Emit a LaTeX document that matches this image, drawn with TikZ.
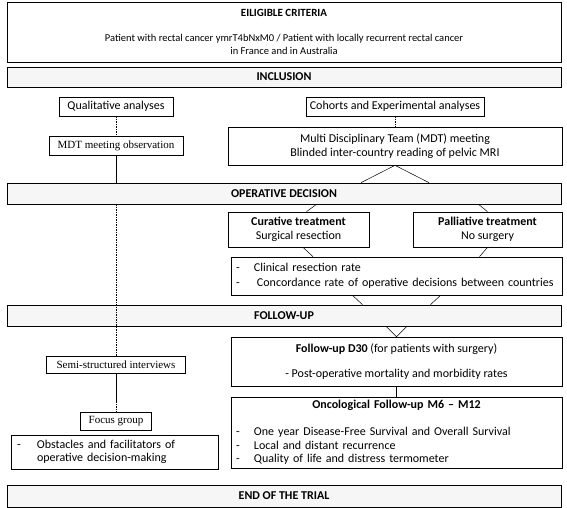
\documentclass[tikz,border=0pt]{standalone}
\usepackage{fontspec}
\setmainfont{Carlito}
\newfontfamily\timesfont{Liberation Serif}
\usetikzlibrary{positioning}

\tikzset{
  box/.style={draw, line width=0.7pt, fill=white, inner sep=2pt, align=center,
    font=\fontsize{12}{14.5}\selectfont},
  listbox/.style={box, align=left},
  tbox/.style={box, font=\timesfont\fontsize{11}{13}\selectfont},
  bar/.style={draw, line width=0.7pt, fill=gray!7, minimum width=554pt,
    minimum height=20pt, font=\bfseries\fontsize{12}{14}\selectfont},
  link/.style={line width=0.5pt},
  dots/.style={link, dash pattern=on 1.5pt off 1pt},
}

\begin{document}
\begin{tikzpicture}[x=1pt, y=-1pt]
  \useasboundingbox (0,0) rectangle (567,508);

  % stages
  \node[box, minimum width=554pt, minimum height=60pt, font=\fontsize{10.5}{13}\selectfont] (elig) at (284,32)
    {{\fontsize{11}{13}\selectfont\bfseries EILIGIBLE CRITERIA}\\[12pt]Patient with rectal cancer ymrT4bNxM0 / Patient with locally recurrent rectal cancer\\in France and in Australia};
  \node[bar] (incl) at (284,77) {INCLUSION};
  \node[bar, minimum height=21pt] (opdec) at (284,193.5) {OPERATIVE DECISION};
  \node[bar, minimum height=21pt] (fup) at (284,315.5) {FOLLOW-UP};
  \node[bar, minimum height=22pt] (end) at (284,496) {END OF THE TRIAL};

  % qualitative side
  \node[box, minimum width=114pt, minimum height=19pt] (qual) at (116,106.5) {Qualitative analyses};
  \node[tbox, minimum width=134pt, minimum height=19pt] (obs) at (116,146) {MDT meeting observation};
  \node[tbox, minimum width=139pt, minimum height=17pt] (semi) at (116,365) {Semi-structured interviews};
  \node[tbox, minimum width=71pt, minimum height=18pt] (focus) at (116,421) {Focus group};
  \node[listbox, minimum width=207pt, minimum height=34pt, text width=195pt, font=\fontsize{12}{13.5}\selectfont] (obst) at (114.5,452)
    {\makebox[20pt][l]{-}Obstacles and facilitators of\\\hspace*{20pt}operative decision-making};
  \coordinate (brk) at (116,401);

  % cohorts side
  \node[box, minimum width=178pt, minimum height=19pt] (coh) at (395,106.5) {Cohorts and Experimental analyses};
  \node[box, minimum width=334pt, minimum height=38pt] (mdt) at (395,146)
    {Multi Disciplinary Team (MDT) meeting\\Blinded inter-country reading of pelvic MRI};
  \node[box, minimum width=141pt, minimum height=35pt] (cure) at (298.5,229.5)
    {\textbf{Curative treatment}\\Surgical resection};
  \node[box, minimum width=149pt, minimum height=35pt] (pall) at (487.5,229.5)
    {\textbf{Palliative treatment}\\No surgery};
  \node[listbox, minimum width=331pt, minimum height=38pt, text width=321pt] (rate) at (396.5,276)
    {\makebox[18pt][l]{-}Clinical resection rate\\\makebox[21pt][l]{-}Concordance rate of operative decisions between countries};
  \node[box, minimum width=331pt, minimum height=49pt] (d30) at (396.5,361.5)
    {\textbf{Follow-up D30} (for patients with surgery)\\[11pt]- Post-operative mortality and morbidity rates};
  \node[listbox, minimum width=331pt, minimum height=71pt, text width=321pt, font=\fontsize{12}{13.5}\selectfont] (onco) at (396.5,432.5)
    {\makebox[\linewidth]{\textbf{Oncological Follow-up M6 -- M12}}\\[14pt]
     \makebox[18pt][l]{-}One year Disease-Free Survival and Overall Survival\\
     \makebox[18pt][l]{-}Local and distant recurrence\\
     \makebox[18pt][l]{-}Quality of life and distress termometer};

  % connectors
  \draw[dots] (qual) -- (obs);
  \draw[link] (obs) -- (obs |- opdec.north);
  \draw[dots] (obs |- opdec.south) -- (semi);
  \draw[link] (semi) -- (brk);
  \draw[dots] (brk) -- (focus);

  \draw[dots] (coh) -- (mdt);
  \draw[link] ([xshift=-34pt]mdt.south |- opdec.north) -- (mdt.south)
    -- ([xshift=34pt]mdt.south |- opdec.north);
  \draw[link] ([xshift=18pt]cure.north |- opdec.south) -- ([xshift=8pt]cure.north);
  \draw[link] ([xshift=-9pt]pall.north |- opdec.south) -- (pall.north);
  \draw[link] ([xshift=4.5pt]cure.south) -- ([xshift=14.5pt]cure.south |- rate.north);
  \draw[link] (pall.south) -- ([xshift=-8pt]pall.south |- rate.north);
  \draw[link] ([xshift=-44pt]rate.south) -- ([xshift=-34pt]rate.south |- fup.north);
  \draw[link] ([xshift=44pt]rate.south) -- ([xshift=34pt]rate.south |- fup.north);
  \draw[link] ([xshift=-10.5pt]d30.north |- fup.south) -- (d30.north)
    -- ([xshift=10.5pt]d30.north |- fup.south);
  \draw[link] (d30) -- (onco);
\end{tikzpicture}
\end{document}
